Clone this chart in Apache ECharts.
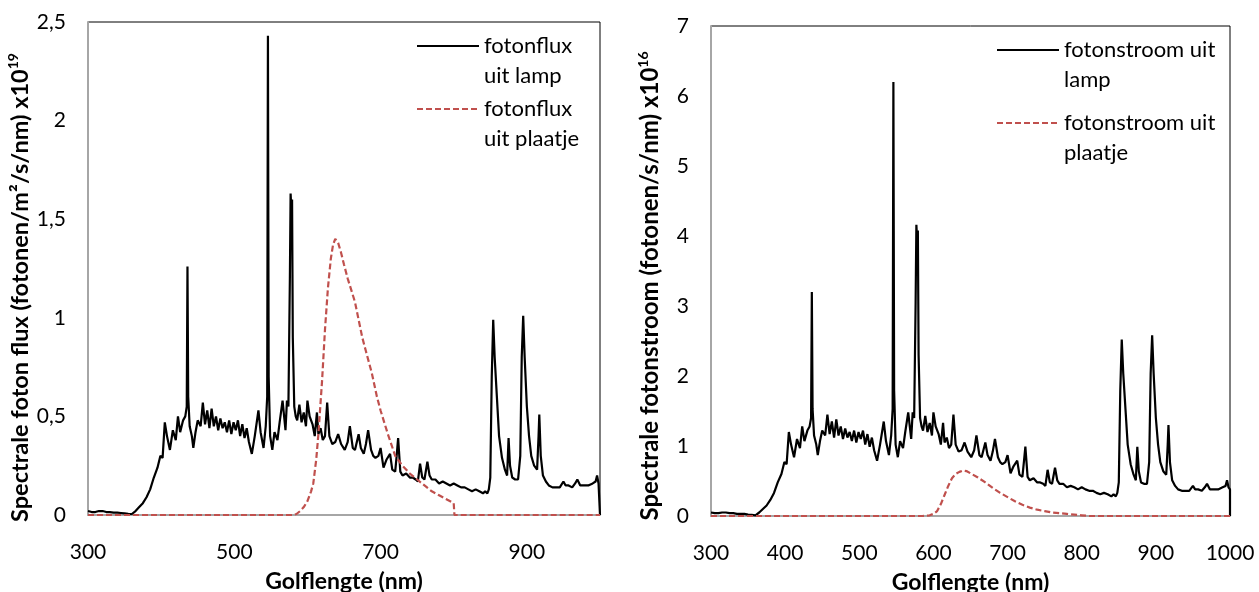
<!DOCTYPE html>
<html>
<head>
<meta charset="utf-8">
<script src="https://cdn.jsdelivr.net/npm/echarts@6/dist/echarts.min.js"></script>
<style>
html,body{margin:0;padding:0;background:#fff;}
#c{width:1259px;height:592px;}
</style>
</head>
<body>
<div id="c"></div>
<script>
// Wavelengths (nm) shared by both lamp spectra
var wl = [
  300,305,310,315,320,325,330,335,340,345,
  350,355,360,365,370,375,380,385,390,395,
  399,402,405,408,412,416,420,423,426,430,
  433,435,436,437,439,442,444,447,450,454,
  457,460,463,466,469,472,475,478,481,484,
  487,490,493,496,499,502,505,508,511,514,
  517,520,524,528,533,536,540,543,545,546,
  547,549,552,555,559,562,566,570,572,574,
  576,577,578,579,580,582,584,586,589,592,
  595,598,600,603,607,610,613,615,618,621,
  624,627,630,634,638,642,646,651,655,658,
  662,665,670,673,677,680,683,687,690,693,
  697,700,704,708,713,716,720,722,724,727,
  730,735,740,744,748,751,754,757,760,764,
  767,770,775,780,785,790,795,800,805,810,
  815,820,825,830,835,840,843,846,848,850,
  852,854,856,859,862,866,870,873,875,877,
  880,884,888,891,893,895,897,900,903,906,
  910,914,916,917,919,922,926,930,935,940,
  945,950,953,957,962,966,969,973,978,984,
  990,994,996,998,1000,1000
];
// Left chart: fotonflux uit lamp (x10^19 fotonen/m2/s/nm)
var lampLeft = [
  0.02,0.015,0.015,0.02,0.02,0.015,0.015,0.012,0.012,0.01,
  0.008,0.006,0.005,0.02,0.04,0.06,0.09,0.13,0.19,0.24,
  0.3,0.29,0.47,0.4,0.33,0.43,0.38,0.5,0.42,0.48,
  0.5,0.55,1.26,0.6,0.45,0.4,0.34,0.42,0.48,0.45,
  0.57,0.46,0.53,0.44,0.54,0.45,0.5,0.43,0.49,0.44,
  0.47,0.42,0.48,0.41,0.47,0.43,0.48,0.4,0.46,0.39,
  0.44,0.37,0.31,0.4,0.53,0.42,0.34,0.45,0.6,2.43,
  0.7,0.4,0.33,0.42,0.38,0.47,0.58,0.43,0.58,0.55,
  1.2,1.63,1.55,1.6,0.9,0.55,0.5,0.48,0.56,0.47,
  0.52,0.45,0.58,0.5,0.46,0.4,0.52,0.41,0.44,0.38,
  0.4,0.57,0.4,0.36,0.37,0.41,0.36,0.33,0.37,0.45,
  0.34,0.33,0.41,0.34,0.31,0.36,0.43,0.33,0.3,0.29,
  0.3,0.34,0.24,0.28,0.31,0.23,0.22,0.3,0.39,0.22,
  0.2,0.21,0.19,0.19,0.18,0.17,0.26,0.19,0.18,0.27,
  0.2,0.18,0.18,0.16,0.17,0.16,0.15,0.16,0.15,0.14,
  0.14,0.13,0.12,0.13,0.12,0.11,0.12,0.11,0.13,0.19,
  0.7,0.99,0.8,0.6,0.4,0.29,0.23,0.2,0.39,0.25,
  0.19,0.18,0.18,0.3,0.8,1.01,0.8,0.55,0.4,0.3,
  0.25,0.23,0.4,0.51,0.3,0.2,0.17,0.15,0.14,0.14,
  0.14,0.17,0.15,0.15,0.14,0.16,0.18,0.15,0.15,0.15,
  0.16,0.17,0.2,0.16,0.15,0
];
// Right chart: fotonstroom uit lamp (x10^16 fotonen/s/nm)
var lampRight = [
  0.05,0.04,0.04,0.05,0.05,0.04,0.04,0.03,0.03,0.03,
  0.02,0.015,0.01,0.05,0.1,0.15,0.23,0.33,0.48,0.6,
  0.77,0.74,1.2,1.02,0.84,1.1,0.97,1.28,1.07,1.22,
  1.28,1.4,3.2,1.53,1.15,1.02,0.87,1.07,1.22,1.15,
  1.45,1.17,1.35,1.12,1.38,1.15,1.28,1.1,1.25,1.12,
  1.2,1.07,1.22,1.05,1.2,1.1,1.22,1.02,1.17,0.99,
  1.12,0.94,0.79,1.02,1.35,1.07,0.87,1.15,1.53,6.2,
  1.79,1.02,0.84,1.07,0.97,1.2,1.48,1.1,1.48,1.4,
  3.06,4.16,3.95,4.08,2.3,1.4,1.28,1.22,1.43,1.2,
  1.33,1.15,1.48,1.28,1.17,1.02,1.33,1.05,1.12,0.97,
  1.02,1.45,1.02,0.92,0.94,1.05,0.92,0.84,0.94,1.15,
  0.87,0.84,1.05,0.87,0.79,0.92,1.1,0.84,0.77,0.74,
  0.77,0.87,0.61,0.71,0.79,0.59,0.56,0.77,0.99,0.56,
  0.51,0.54,0.48,0.48,0.46,0.43,0.66,0.48,0.46,0.69,
  0.51,0.46,0.46,0.41,0.43,0.41,0.38,0.41,0.38,0.36,
  0.36,0.33,0.31,0.33,0.31,0.28,0.31,0.28,0.33,0.48,
  1.79,2.52,2.04,1.53,1.02,0.74,0.59,0.51,0.99,0.64,
  0.48,0.46,0.46,0.77,2.04,2.58,2.04,1.4,1.02,0.77,
  0.64,0.59,1.02,1.3,0.77,0.51,0.43,0.38,0.36,0.36,
  0.36,0.43,0.38,0.38,0.36,0.41,0.46,0.38,0.38,0.38,
  0.41,0.43,0.51,0.41,0.38,0
];
// Left chart: fotonflux uit plaatje
var plateLeftWl = [300,580,585,590,595,600,605,608,612,615,
  620,624,628,632,635,638,642,646,650,655,
  660,665,670,675,680,688,695,700,705,710,
  720,730,740,750,760,770,780,790,800,801,1000];
var plateLeft = [0,0,0.005,0.02,0.04,0.07,0.12,0.16,0.28,0.41,
  0.68,0.94,1.15,1.3,1.37,1.4,1.38,1.33,1.27,1.2,
  1.14,1.08,0.99,0.9,0.83,0.72,0.6,0.53,0.47,0.41,
  0.3,0.25,0.21,0.18,0.15,0.12,0.1,0.08,0.06,0,0];
// Right chart: fotonstroom uit plaatje
var plateRightWl = [300,585,590,595,600,605,610,615,620,625,
  630,635,640,645,650,660,670,680,690,700,
  710,720,730,740,750,760,770,780,790,800,810,1000];
var plateRight = [0,0,0.005,0.01,0.03,0.07,0.17,0.3,0.43,0.54,
  0.6,0.63,0.65,0.64,0.61,0.55,0.48,0.4,0.33,0.27,
  0.21,0.16,0.12,0.09,0.07,0.05,0.04,0.03,0.02,0.01,0,0];

var leftXLabels = [300, 500, 700, 900];
var rightXLabels = [300, 400, 500, 600, 700, 800, 900, 1000];

var seriesNames = {
  lampL: 'fotonflux uit lamp',
  plateL: 'fotonflux uit plaatje',
  lampR: 'fotonstroom uit lamp',
  plateR: 'fotonstroom uit plaatje'
};
var legendText = {
  'fotonflux uit lamp': 'fotonflux\nuit lamp',
  'fotonflux uit plaatje': 'fotonflux\nuit plaatje',
  'fotonstroom uit lamp': 'fotonstroom uit\nlamp',
  'fotonstroom uit plaatje': 'fotonstroom uit\nplaatje'
};

function zip(xs, ys) { return xs.map(function (x, i) { return [x, ys[i]]; }); }

var FONT = 'Lato';
var BLACK = '#000000';
var RED = '#C0504D';
var AXIS_GRAY = '#A6A6A6';

function xAxisCfg(grid, labels) {
  return {
    type: 'value', gridIndex: grid, min: 300, max: 1000, interval: 100,
    name: 'Golflengte (nm)', nameLocation: 'middle', nameGap: 53,
    nameTextStyle: { fontFamily: FONT, fontSize: 23, fontWeight: 'bold', color: BLACK, lineHeight: 28 },
    axisLine: { show: true, onZero: false, lineStyle: { color: AXIS_GRAY, width: 2 } },
    axisTick: { show: false },
    splitLine: { show: false },
    axisLabel: {
      margin: 27, fontFamily: FONT, fontSize: 21, color: BLACK,
      formatter: function (v) { return labels.indexOf(v) >= 0 ? String(v) : ''; }
    }
  };
}
function yAxisCfg(grid, max, interval, name, gap, size, shift) {
  return {
    type: 'value', gridIndex: grid, min: 0, max: max, interval: interval,
    name: name, nameLocation: 'middle', nameGap: gap,
    nameTextStyle: {
      color: BLACK,
      padding: [0, shift, 0, 0],
      rich: {
        t: { fontFamily: FONT, fontSize: size, fontWeight: 'bold', color: BLACK, lineHeight: 28 },
        s: { fontFamily: FONT, fontSize: 14, fontWeight: 'bold', color: BLACK, lineHeight: 28, verticalAlign: 'top' }
      }
    },
    axisLine: { show: true, lineStyle: { color: AXIS_GRAY, width: 2 } },
    axisTick: { show: false },
    splitLine: { show: false },
    axisLabel: {
      margin: 22, fontFamily: FONT, fontSize: 21, color: BLACK,
      formatter: function (v) { return String(v).replace('.', ','); }
    }
  };
}
function legendCfg(name, left, top) {
  return {
    data: [name], left: left, top: top, orient: 'vertical', padding: 0,
    itemWidth: 62, itemHeight: 12, selectedMode: false,
    itemStyle: { opacity: 0 },
    formatter: function (n) { return '\n' + legendText[n]; },
    textStyle: { fontFamily: FONT, fontSize: 22, color: BLACK, lineHeight: 30 }
  };
}
function lineSeries(name, xi, data, color, dashed) {
  return {
    name: name, type: 'line', xAxisIndex: xi, yAxisIndex: xi,
    data: data, symbol: 'none', showSymbol: false, smooth: false,
    lineStyle: { color: color, width: 2.2, type: dashed ? [6, 3] : 'solid' },
    itemStyle: { color: color },
    z: dashed ? 3 : 2
  };
}

var chart = echarts.init(document.getElementById('c'), null, { renderer: 'canvas' });
chart.setOption({
  animation: false,
  backgroundColor: '#ffffff',
  grid: [
    { left: 88, top: 22, width: 512, height: 493, show: true, borderColor: BLACK, borderWidth: 1, containLabel: false, outerBoundsMode: 'none' },
    { left: 711, top: 26, width: 519, height: 490, show: true, borderColor: BLACK, borderWidth: 1, containLabel: false, outerBoundsMode: 'none' }
  ],
  xAxis: [xAxisCfg(0, leftXLabels), xAxisCfg(1, rightXLabels)],
  yAxis: [
    yAxisCfg(0, 2.5, 0.5, '{t|Spectrale foton flux (fotonen/m²/s/nm) x10}{s|19}', 54, 23.5, 38),
    yAxisCfg(1, 7, 1, '{t|Spectrale fotonstroom (fotonen/s/nm) x10}{s|16}', 47, 24, 30)
  ],
  legend: [
    legendCfg(seriesNames.lampL, 416, 1),
    legendCfg(seriesNames.plateL, 416, 64),
    legendCfg(seriesNames.lampR, 996, 5),
    legendCfg(seriesNames.plateR, 996, 78)
  ],
  series: [
    lineSeries(seriesNames.lampL, 0, zip(wl, lampLeft), BLACK, false),
    lineSeries(seriesNames.plateL, 0, zip(plateLeftWl, plateLeft), RED, true),
    lineSeries(seriesNames.lampR, 1, zip(wl, lampRight), BLACK, false),
    lineSeries(seriesNames.plateR, 1, zip(plateRightWl, plateRight), RED, true)
  ]
});
</script>
</body>
</html>
